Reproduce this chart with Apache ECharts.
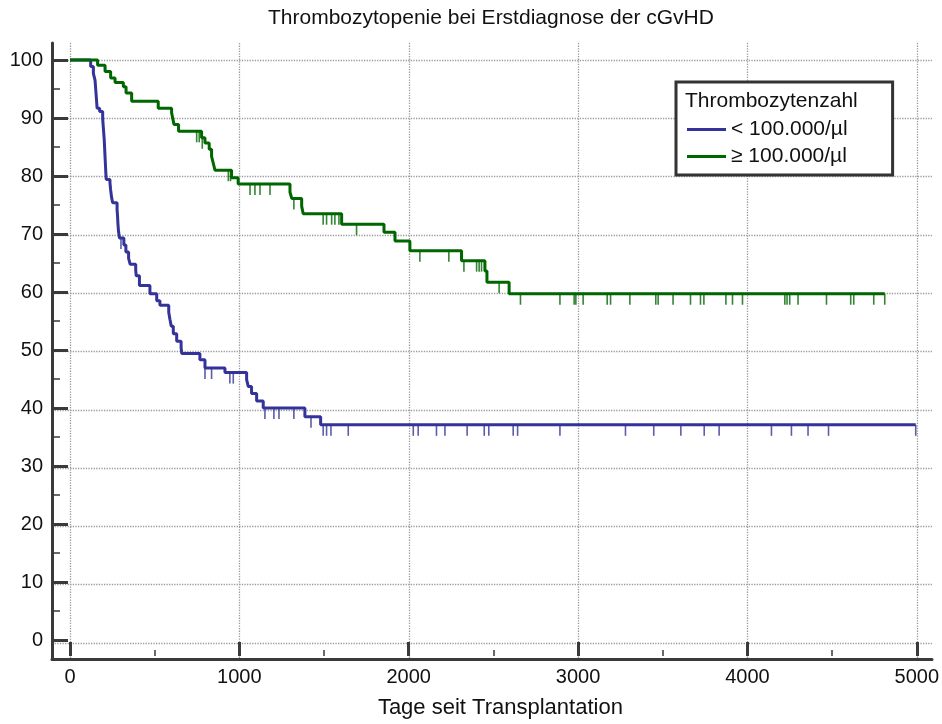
<!DOCTYPE html>
<html>
<head>
<meta charset="utf-8">
<script src="https://cdn.jsdelivr.net/npm/echarts@6/dist/echarts.min.js"></script>
<style>
  html, body { margin: 0; padding: 0; background: #fff; }
  #chart { width: 942px; height: 724px; }
</style>
</head>
<body>
<div id="chart"></div>
<script>
// Kaplan-Meier steps: time (days) and survival (%)
var blueTimes = [0, 122, 138, 148, 151, 154, 157, 160, 175, 193, 196, 199, 202, 204, 206, 208, 210, 212, 214,
  236, 240, 245, 252, 278, 281, 283, 286, 292, 318, 330, 346, 355, 388, 391, 410, 472, 512, 531, 583, 590, 598,
  610, 630, 656, 660, 767, 797, 915, 1043, 1053, 1072, 1102, 1141, 1387, 1480, 4994];
var blueSurv = [100, 98.9, 97.7, 96.5, 95.3, 94.1, 92.9, 91.7, 91.1, 89.9, 88.7, 87.5, 86.3, 85.1, 83.9, 82.7, 81.5, 80.3, 79.4,
  78.8, 77.6, 76.4, 75.4, 74.2, 73.0, 71.8, 70.6, 69.3, 68.1, 66.9, 65.8, 64.8, 63.8, 62.8, 61.1, 59.7, 58.5, 57.7, 56.5, 55.3, 54.1,
  52.8, 51.5, 50.4, 49.4, 48.3, 46.9, 46.1, 44.9, 43.7, 42.5, 41.2, 40.0, 38.5, 37.1, 37.1];
var blueCensored = [301, 797, 836, 944, 964, 1151, 1204, 1234, 1322, 1423, 1495, 1515, 1541, 1643, 2027, 2056, 2164,
  2214, 2345, 2446, 2473, 2617, 2643, 2893, 3280, 3447, 3607, 3745, 3833, 4142, 4260, 4358, 4479, 4994];

var greenTimes = [0, 163, 207, 240, 266, 315, 331, 364, 521, 600, 607, 614, 641, 777, 797, 822, 836, 846, 856, 954, 993,
  1299, 1310, 1368, 1377, 1604, 1854, 1919, 2007, 2312, 2450, 2462, 2593, 4811];
var greenSurv = [100, 99.1, 98.0, 96.9, 96.1, 95.4, 94.3, 92.9, 91.7, 90.9, 89.9, 88.9, 87.7, 86.6, 85.7, 84.6, 83.4, 82.2, 81.0, 79.7, 78.6,
  77.2, 76.1, 74.8, 73.5, 71.7, 70.3, 68.8, 67.1, 65.4, 63.6, 61.7, 59.7, 59.7];
var greenCensored = [748, 763, 781, 935, 948, 1063, 1092, 1122, 1181, 1322, 1495, 1515, 1545, 1564, 1588, 1692, 2066, 2237,
  2326, 2401, 2416, 2430, 2534, 2660, 2893, 2977, 2987, 3030, 3172, 3192, 3306, 3459, 3473, 3561, 3664, 3723, 3743,
  3873, 3912, 3971, 4221, 4234, 4250, 4299, 4467, 4610, 4628, 4746, 4811];

var seriesNames = ['< 100.000/\u00b5l', '\u2265 100.000/\u00b5l'];
var xTicks = [0, 5000, 1000];   // min, max, step
var yTicks = [0, 100, 10];

var FONT = '"Liberation Sans", Arial, sans-serif';

// survival value at time t from a step list
function survAt(times, surv, t) {
  var v = surv[0];
  for (var i = 0; i < times.length; i++) { if (times[i] <= t) v = surv[i]; }
  return v;
}
function pairs(a, b) { return a.map(function (t, i) { return [t, b[i]]; }); }
function censorPts(c, times, surv) { return c.map(function (t) { return [t, survAt(times, surv, t)]; }); }

// inner plotting box (data range) and outer frame (axis lines)
var inner = { left: 70, top: 60, right: 25, bottom: 81 };
var outer = { left: 52, top: 43, right: 10, bottom: 65 };
var W = 942, H = 724;
var pxX = (W - inner.left - inner.right) / (xTicks[1] - xTicks[0]);
var pxY = (H - inner.top - inner.bottom) / (yTicks[1] - yTicks[0]);
var oxMin = xTicks[0] - (inner.left - outer.left) / pxX;
var oxMax = xTicks[1] + (inner.right - outer.right) / pxX;
var oyMin = yTicks[0] - (inner.bottom - outer.bottom) / pxY;
var oyMax = yTicks[1] + (inner.top - outer.top) / pxY;

var chartDom = document.getElementById('chart');
var kmChart = echarts.init(chartDom);
var option;

var gridLine = { show: true, showMinLine: false, showMaxLine: false, lineStyle: { color: '#9a9a9a', type: 'dotted', width: 1.3 } };
var axisCol = '#3a3a3a';

option = {
  animation: false,
  textStyle: { fontFamily: FONT },
  title: [
    { text: 'Thrombozytopenie bei Erstdiagnose der cGvHD', left: 268, top: 8, padding: 0,
      textStyle: { fontSize: 21, fontWeight: 'normal', color: '#111', fontFamily: FONT } },
    { text: 'Thrombozytenzahl', left: 685, top: 91, padding: 0,
      textStyle: { fontSize: 21, fontWeight: 'normal', color: '#111', fontFamily: FONT } }
  ],
  legend: {
    data: seriesNames,
    orient: 'vertical',
    left: 676, top: 82,
    padding: [37, 45, 8, 11],
    itemGap: 6,
    itemWidth: 39, itemHeight: 3,
    icon: 'rect',
    backgroundColor: '#fff',
    borderColor: '#333',
    borderWidth: 3,
    borderRadius: 0,
    textStyle: { fontSize: 21, color: '#111', fontFamily: FONT }
  },
  grid: [
    { left: outer.left, top: outer.top, right: outer.right, bottom: outer.bottom },
    { left: inner.left, top: inner.top, right: inner.right, bottom: inner.bottom }
  ],
  xAxis: [
    { gridIndex: 0, type: 'value', min: oxMin, max: oxMax, splitNumber: 5,
      axisLine: { show: true, onZero: false, lineStyle: { color: axisCol, width: 3 } },
      axisTick: { show: false }, axisLabel: { show: false }, splitLine: gridLine },
    { gridIndex: 1, type: 'value', min: xTicks[0], max: xTicks[1], interval: xTicks[2],
      offset: inner.bottom - outer.bottom,
      name: 'Tage seit Transplantation', nameLocation: 'middle', nameGap: 41,
      nameTextStyle: { fontSize: 22, color: '#111', fontFamily: FONT, padding: [0, 0, 0, 14] },
      axisLine: { show: false, onZero: false },
      axisTick: { show: true, inside: true, length: 14, lineStyle: { color: axisCol, width: 3 } },
      minorTick: { show: true, splitNumber: 2, length: 6, lineStyle: { color: axisCol, width: 1.5 } },
      axisLabel: { fontSize: 20, color: '#111', margin: 11, fontFamily: FONT,
        formatter: function (v) { return String(v); } },
      splitLine: { show: false }
    }
  ],
  yAxis: [
    { gridIndex: 0, type: 'value', min: oyMin, max: oyMax, splitNumber: 10,
      axisLine: { show: true, onZero: false, lineStyle: { color: axisCol, width: 3 } },
      axisTick: { show: false }, axisLabel: { show: false }, splitLine: gridLine },
    { gridIndex: 1, type: 'value', min: yTicks[0], max: yTicks[1], interval: yTicks[2],
      offset: inner.left - outer.left,
      axisLine: { show: false, onZero: false },
      axisTick: { show: true, inside: true, length: 16, lineStyle: { color: axisCol, width: 3 } },
      minorTick: { show: true, splitNumber: 2, length: 8, lineStyle: { color: axisCol, width: 1.5 } },
      axisLabel: { fontSize: 20, color: '#111', margin: 9, fontFamily: FONT },
      splitLine: { show: false }
    }
  ],
  series: [
    {
      name: seriesNames[0], type: 'line', step: 'end', xAxisIndex: 1, yAxisIndex: 1,
      showSymbol: false, symbol: 'none', clip: false, z: 3,
      color: '#333399',
      lineStyle: { color: '#333399', width: 3 },
      data: pairs(blueTimes, blueSurv)
    },
    {
      name: seriesNames[1], type: 'line', step: 'end', xAxisIndex: 1, yAxisIndex: 1,
      showSymbol: false, symbol: 'none', clip: false, z: 3,
      color: '#006600',
      lineStyle: { color: '#006600', width: 3 },
      data: pairs(greenTimes, greenSurv)
    },
    {
      name: 'blue censored', type: 'scatter', xAxisIndex: 1, yAxisIndex: 1,
      symbol: 'rect', symbolSize: [1.6, 11], symbolOffset: [0, 5.5], z: 3,
      itemStyle: { color: '#333399' }, silent: true,
      data: censorPts(blueCensored, blueTimes, blueSurv)
    },
    {
      name: 'green censored', type: 'scatter', xAxisIndex: 1, yAxisIndex: 1,
      symbol: 'rect', symbolSize: [1.6, 11], symbolOffset: [0, 5.5], z: 3,
      itemStyle: { color: '#006600' }, silent: true,
      data: censorPts(greenCensored, greenTimes, greenSurv)
    }
  ]
};

option && kmChart.setOption(option);
window.addEventListener('resize', function () { kmChart.resize(); });
</script>
</body>
</html>
